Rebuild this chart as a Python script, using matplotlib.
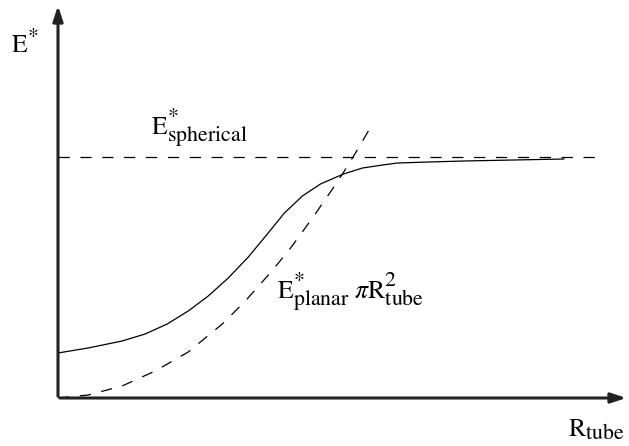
import matplotlib.pyplot as plt
import matplotlib._mathtext as mathtext_internals

plt.rcParams['mathtext.fontset'] = 'stix'
plt.rcParams['font.family'] = 'STIXGeneral'
# the reference uses rather large sub/superscripts
mathtext_internals.SHRINK_FACTOR = 0.85

# values (origin at the axes corner, y upward)
r_solid = [0, 30, 64, 87, 109, 130, 150, 170, 190, 209, 226, 244, 262, 285, 304, 324, 339, 370, 405, 455, 505]
e_solid = [45, 50, 57, 64, 74, 87, 102, 120, 141, 164, 185, 202, 214, 224, 230, 233, 235, 236, 237, 238, 239]

r_planar = [0, 30, 64, 97, 130, 164, 187, 210, 230, 254, 274, 284, 300, 315]
e_planar = [0, 3, 12, 27, 46, 74, 97, 123, 147, 180, 209, 224, 250, 276]

e_spherical = 241
r_spherical_end = 542
r_max = 570
e_max = 395

fig = plt.figure(figsize=(6.29, 4.46), dpi=100)
ax = fig.add_axes([58 / 629, 48 / 446, 571 / 629, 395 / 446])
ax.set_xlim(0, r_max)
ax.set_ylim(0, e_max)
ax.axis('off')

dash = (9, 8.5)
ax.plot(r_solid, e_solid, color='black', lw=0.9)
ax.plot(r_planar, e_planar, color='black', lw=0.9, dashes=dash)
ax.plot([0, r_spherical_end], [e_spherical, e_spherical], color='black', lw=0.9, dashes=dash)

# axes with arrows
arrow = dict(arrowstyle='-|>,head_length=0.9,head_width=0.3', color='#222222', lw=2.2)
ax.annotate('', xy=(r_max, 0), xytext=(-1, 0), arrowprops=arrow, annotation_clip=False)
ax.annotate('', xy=(0, e_max), xytext=(0, -1), arrowprops=arrow, annotation_clip=False)

fs = 18.5
fig.text(11 / 629, 1 - 53 / 446, r'$\mathrm{E}^{*}$', fontsize=fs)
fig.text(151 / 629, 1 - 135 / 446, r'$\mathrm{E}^{*}_{\mathrm{spherical}}$', fontsize=fs)
fig.text(277 / 629, 1 - 299 / 446, r'$\mathrm{E}^{*}_{\mathrm{planar}}\;\pi\mathrm{R}^{2}_{\mathrm{tube}}$', fontsize=fs)
fig.text(568 / 629, 1 - 436 / 446, r'$\mathrm{R}_{\mathrm{tube}}$', fontsize=fs)

fig.savefig('out.png', dpi=100)
